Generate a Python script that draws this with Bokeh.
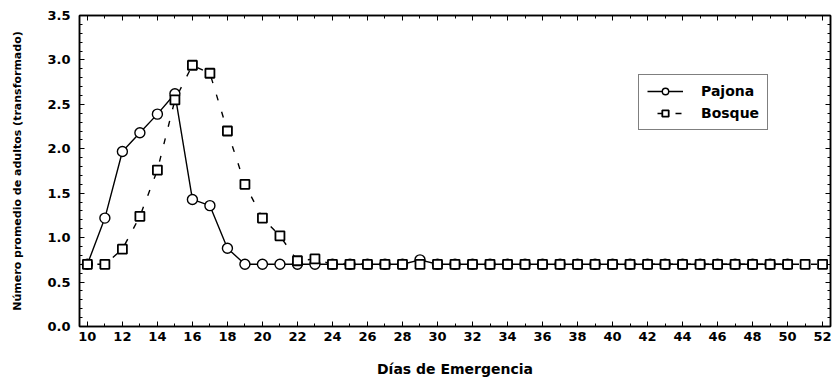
from bokeh.plotting import figure
from bokeh.models import (Legend, LegendItem, LinearAxis, FixedTicker,
                          CustomJSTickFormatter)
from bokeh.embed import file_html
from bokeh.resources import INLINE

# Emergence day and mean adults (transformed) for both habitats
dias = list(range(10, 53))
pajona = [0.70, 1.22, 1.97, 2.18, 2.39, 2.62, 1.43, 1.36, 0.88, 0.70,
          0.70, 0.70, 0.70, 0.70, 0.70, 0.70, 0.70, 0.70, 0.70, 0.75,
          0.70, 0.70, 0.70, 0.70, 0.70, 0.70, 0.70, 0.70, 0.70, 0.70,
          0.70, 0.70, 0.70, 0.70, 0.70, 0.70, 0.70, 0.70, 0.70, 0.70,
          0.70]
bosque = [0.70, 0.70, 0.87, 1.24, 1.76, 2.55, 2.94, 2.85, 2.20, 1.60,
          1.22, 1.02, 0.74, 0.76, 0.70, 0.70, 0.70, 0.70, 0.70, 0.70,
          0.70, 0.70, 0.70, 0.70, 0.70, 0.70, 0.70, 0.70, 0.70, 0.70,
          0.70, 0.70, 0.70, 0.70, 0.70, 0.70, 0.70, 0.70, 0.70, 0.70,
          0.70, 0.70, 0.70]
dias_pajona = dias[:len(pajona)]

x_ticks = list(range(10, 53, 2))
y_ticks = [0.0, 0.5, 1.0, 1.5, 2.0, 2.5, 3.0, 3.5]

FONT = "DejaVu Sans"

p = figure(width=840, height=385, x_range=(9.55, 52.45), y_range=(0, 3.5),
           output_backend="svg", toolbar_location=None,
           min_border_left=79, min_border_right=10,
           min_border_top=15, min_border_bottom=59)
p.xgrid.visible = False
p.ygrid.visible = False
p.outline_line_color = "black"
p.outline_line_width = 1.5
p.background_fill_color = "white"
p.border_fill_color = "white"


def style_axis(ax, ticks, minor):
    ax.ticker = FixedTicker(ticks=ticks, minor_ticks=minor)
    ax.axis_line_color = "black"
    ax.axis_line_width = 1.5
    ax.major_tick_in = 5
    ax.major_tick_out = 0
    ax.minor_tick_in = 3
    ax.minor_tick_out = 0
    ax.major_tick_line_color = "black"
    ax.minor_tick_line_color = "black"
    ax.major_label_text_font = FONT
    ax.major_label_text_font_style = "bold"
    ax.major_label_text_font_size = "13px"
    ax.major_label_text_color = "black"
    ax.axis_label_text_font = FONT
    ax.axis_label_text_font_style = "bold"
    ax.axis_label_text_color = "black"


x_minor = list(range(10, 53))
y_minor = [round(i * 0.1, 1) for i in range(0, 36)]

style_axis(p.xaxis[0], x_ticks, x_minor)
style_axis(p.yaxis[0], y_ticks, y_minor)
p.xaxis.axis_label = "Días de Emergencia"
p.xaxis.axis_label_text_font_size = "14px"
p.xaxis.major_label_standoff = 5
p.xaxis.axis_label_standoff = 17
p.yaxis.axis_label = "Número promedio de adultos (transformado)"
p.yaxis.axis_label_text_font_size = "11px"
p.yaxis.major_label_standoff = 9
p.yaxis.axis_label_standoff = 20
p.yaxis.formatter = CustomJSTickFormatter(code="return tick.toFixed(1);")

# Tick-only axes on the top and right edges
top = LinearAxis()
style_axis(top, x_ticks, x_minor)
top.major_label_text_alpha = 0
top.major_label_text_font_size = "1px"
p.add_layout(top, "above")
right = LinearAxis()
style_axis(right, y_ticks, y_minor)
right.major_label_text_alpha = 0
right.major_label_text_font_size = "1px"
p.add_layout(right, "right")

# Lines
l_bos = p.line(dias, bosque, line_color="black", line_width=1.4,
               line_dash="6 12", line_dash_offset=8)
l_paj = p.line(dias_pajona, pajona, line_color="black", line_width=1.4)

# Markers
c_paj = p.scatter(dias_pajona, pajona, marker="circle", size=10,
                  fill_color="white", line_color="black", line_width=1.4)
s_bos = p.scatter(dias, bosque, marker="square", size=9,
                  fill_color="white", line_color="black", line_width=1.8)

legend = Legend(items=[
    LegendItem(label="Pajona", renderers=[l_paj, c_paj]),
    LegendItem(label="Bosque", renderers=[l_bos, s_bos]),
], location=(559, 196))
legend.border_line_color = "black"
legend.border_line_width = 1.5
legend.background_fill_color = "white"
legend.background_fill_alpha = 1
legend.label_text_font = FONT
legend.label_text_font_style = "bold"
legend.label_text_font_size = "14px"
legend.label_text_color = "black"
legend.glyph_width = 36
legend.glyph_height = 16
legend.spacing = 6
legend.padding = 8
legend.margin = 0
legend.label_standoff = 18
p.add_layout(legend)

open("out.html", "w").write(file_html(p, INLINE))
